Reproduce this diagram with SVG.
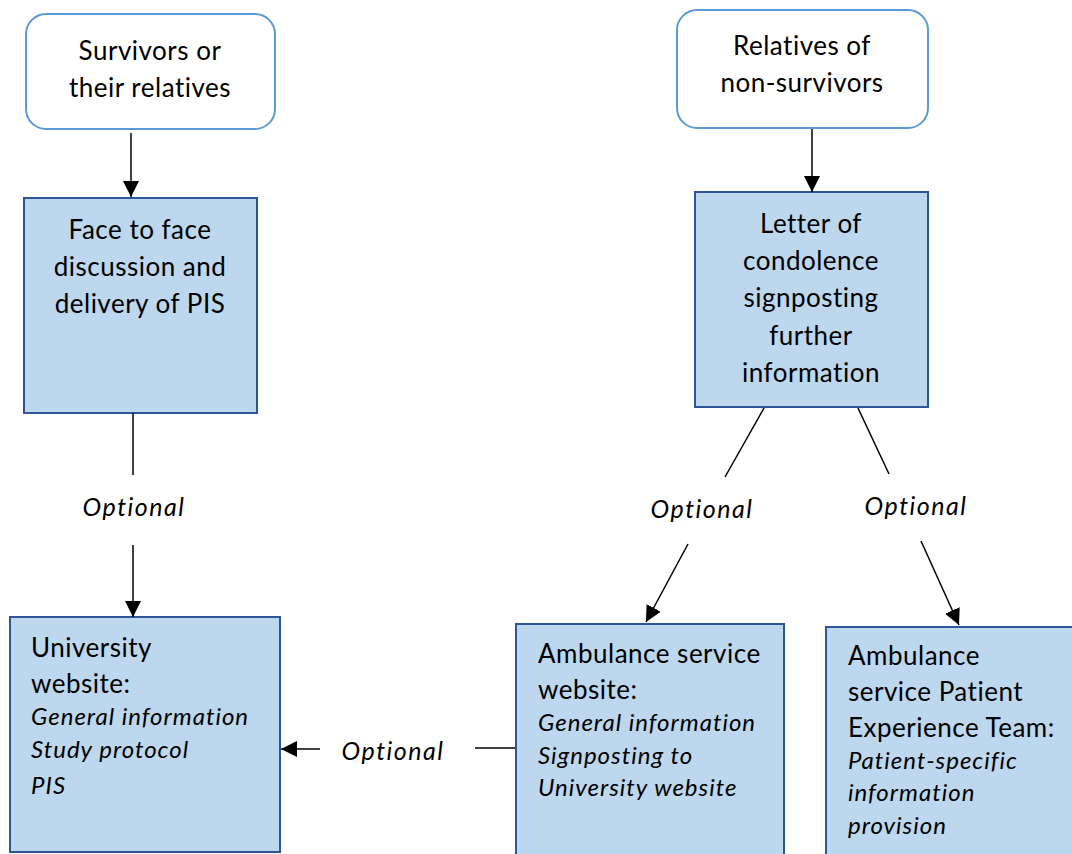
<svg xmlns="http://www.w3.org/2000/svg" width="1072" height="854" viewBox="0 0 1072 854">
<defs>
<style>
.start{fill:#fff;stroke:#5B9BD5;stroke-width:2}
.box{fill:#BDD7EE;stroke:#2F5597;stroke-width:2}
.t{font-family:Lato,"Liberation Sans",sans-serif;font-size:26px;letter-spacing:0.5px;fill:#000}
.c{text-anchor:middle}
.i{font-style:italic;font-size:24px;letter-spacing:1px}
.opt{font-family:Lato,"Liberation Sans",sans-serif;font-size:25px;letter-spacing:1.5px;font-style:italic;fill:#000;text-anchor:middle}
.ln{stroke:#000;stroke-width:1.5;fill:none}
</style>
<marker id="ah2" viewBox="0 0 16 16" refX="16" refY="8" markerWidth="16" markerHeight="16" markerUnits="userSpaceOnUse" orient="auto">
<path d="M0,0 L16,8 L0,16 z" fill="#000"/>
</marker>
</defs>
<rect width="1072" height="854" fill="#fff"/>

<g id="survivors">
<rect class="start" x="26" y="14" width="249" height="115" rx="20"/>
<text class="t c" x="150" y="60">Survivors or</text>
<text class="t c" x="150" y="97">their relatives</text>
</g>

<g id="relatives">
<rect class="start" x="677" y="10" width="251" height="118" rx="20"/>
<text class="t c" x="802" y="55">Relatives of</text>
<text class="t c" x="802" y="92">non-survivors</text>
</g>

<g id="face">
<rect class="box" x="24" y="198" width="233" height="215"/>
<text class="t c" x="140" y="239">Face to face</text>
<text class="t c" x="140" y="276">discussion and</text>
<text class="t c" x="140" y="313">delivery of PIS</text>
</g>

<g id="letter">
<rect class="box" x="695" y="192" width="233" height="215"/>
<text class="t c" x="811" y="233">Letter of</text>
<text class="t c" x="811" y="270">condolence</text>
<text class="t c" x="811" y="307">signposting</text>
<text class="t c" x="811" y="345">further</text>
<text class="t c" x="811" y="382">information</text>
</g>

<g id="university">
<rect class="box" x="10" y="617" width="270" height="235"/>
<text class="t" x="31" y="657">University</text>
<text class="t" x="31" y="693">website:</text>
<text class="t i" x="31" y="725">General information</text>
<text class="t i" x="31" y="758">Study protocol</text>
<text class="t i" x="31" y="794">PIS</text>
</g>

<g id="ambulance-web">
<rect class="box" x="516" y="624" width="268" height="240"/>
<text class="t" x="538" y="663">Ambulance service</text>
<text class="t" x="538" y="699">website:</text>
<text class="t i" x="538" y="731">General information</text>
<text class="t i" x="538" y="764">Signposting to</text>
<text class="t i" x="538" y="796">University website</text>
</g>

<g id="ambulance-pet">
<rect class="box" x="826" y="627" width="260" height="240"/>
<text class="t" x="848" y="665">Ambulance</text>
<text class="t" x="848" y="701">service Patient</text>
<text class="t" x="848" y="737">Experience Team:</text>
<text class="t i" x="848" y="769">Patient-specific</text>
<text class="t i" x="848" y="801">information</text>
<text class="t i" x="848" y="834">provision</text>
</g>

<g id="connectors">
<line class="ln" x1="131" y1="133" x2="131" y2="197" marker-end="url(#ah2)"/>
<line class="ln" x1="812" y1="129" x2="812" y2="192" marker-end="url(#ah2)"/>
<line class="ln" x1="133" y1="413" x2="133" y2="475"/>
<text class="opt" x="134" y="516">Optional</text>
<line class="ln" x1="133" y1="545" x2="133" y2="617" marker-end="url(#ah2)"/>
<line class="ln" x1="764" y1="408" x2="725" y2="477"/>
<text class="opt" x="702" y="518">Optional</text>
<line class="ln" x1="688" y1="544" x2="646" y2="622" marker-end="url(#ah2)"/>
<line class="ln" x1="858" y1="408" x2="889" y2="474"/>
<text class="opt" x="916" y="515">Optional</text>
<line class="ln" x1="921" y1="541" x2="959" y2="625" marker-end="url(#ah2)"/>
<line class="ln" x1="475" y1="748" x2="515" y2="748"/>
<text class="opt" x="393" y="760">Optional</text>
<line class="ln" x1="320" y1="749" x2="281" y2="749" marker-end="url(#ah2)"/>
</g>
</svg>
